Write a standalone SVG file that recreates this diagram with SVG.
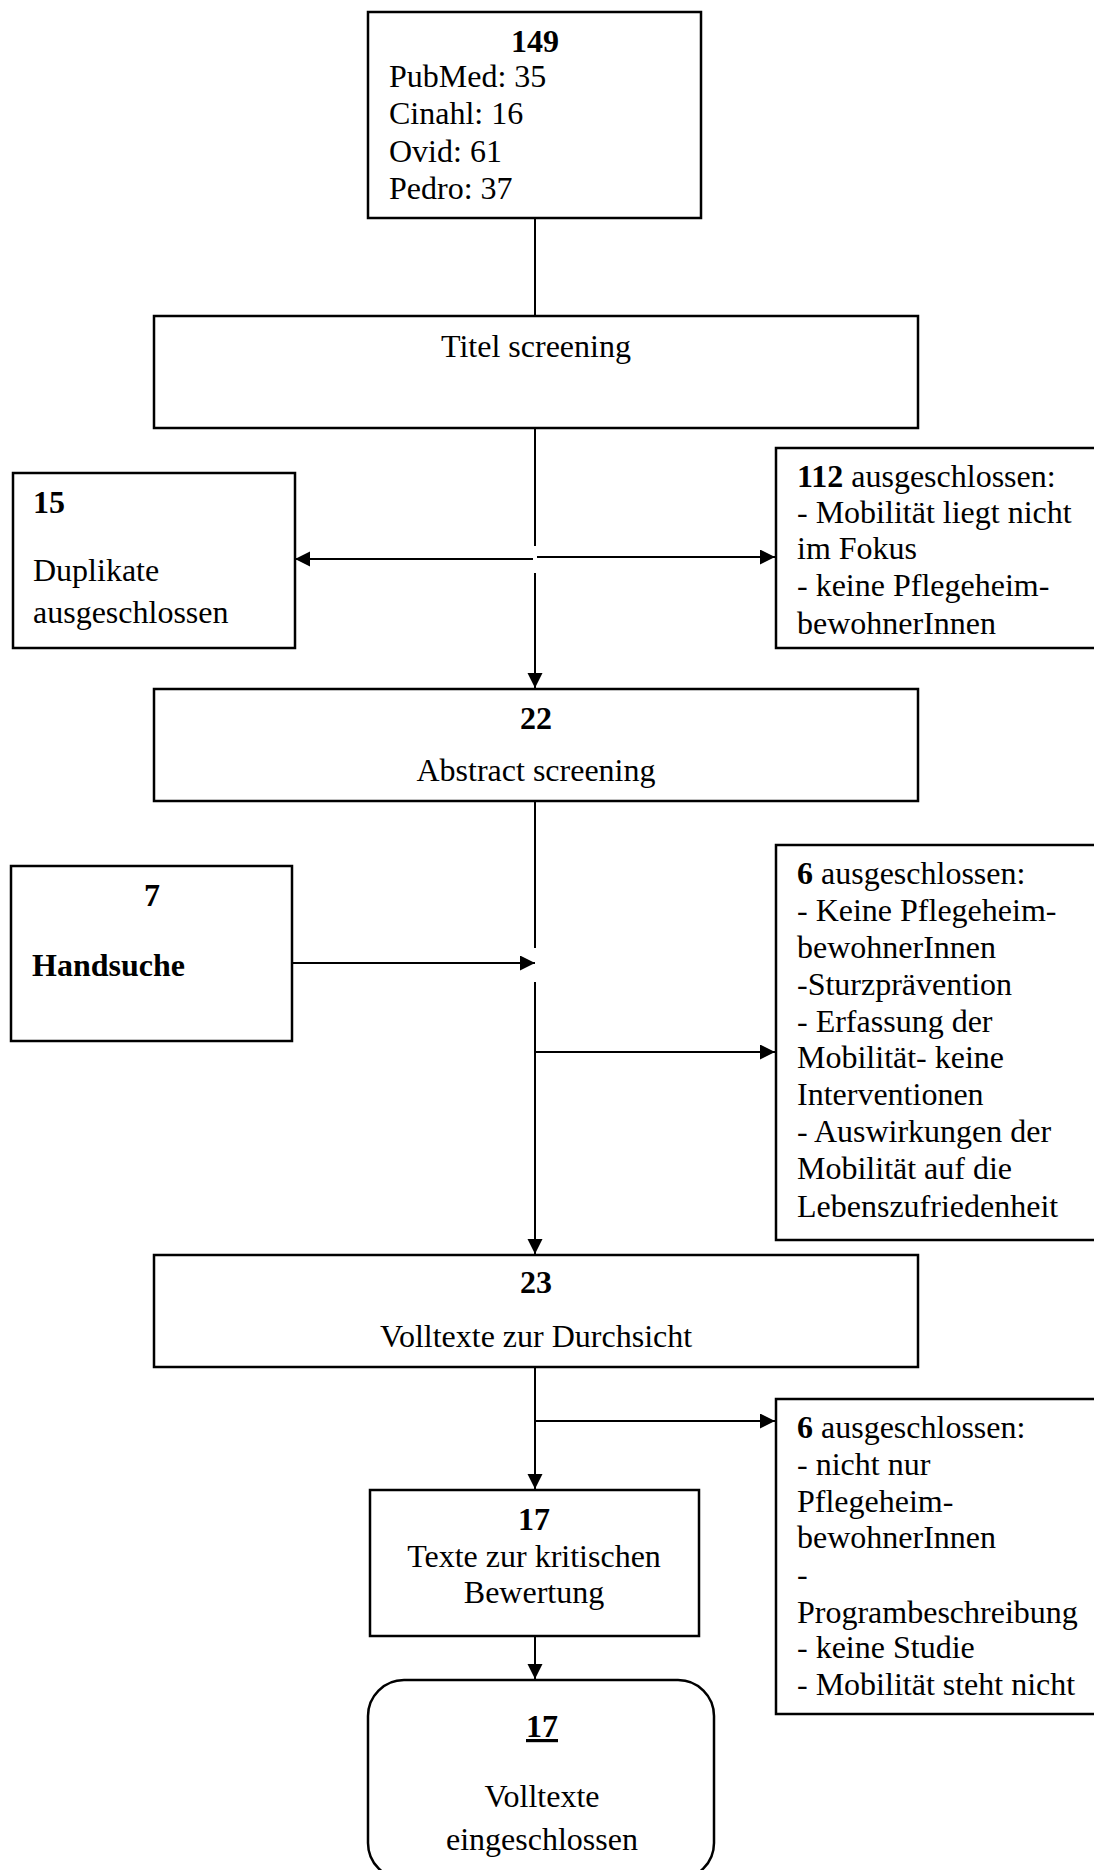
<svg xmlns="http://www.w3.org/2000/svg" width="1094" height="1870" viewBox="0 0 1094 1870">
<style>
.box{fill:#fff;stroke:#000;stroke-width:2.5}
.t{font-family:"Liberation Serif","Times New Roman",serif;font-size:32px;fill:#000}
.c{text-anchor:middle}
.b{font-weight:bold}
.ln{stroke:#000;stroke-width:2;fill:none}
</style>
<defs>
<marker id="ah" markerUnits="userSpaceOnUse" markerWidth="16" markerHeight="16" refX="15" refY="7.5" orient="auto">
<path d="M0,0 L15,7.5 L0,15 z" fill="#000"/>
</marker>
</defs>
<rect width="1094" height="1870" fill="#fff"/>
<g id="connectors">
<line class="ln" x1="535" y1="218" x2="535" y2="316"/>
<line class="ln" x1="535" y1="428" x2="535" y2="546"/>
<line class="ln" x1="535" y1="573" x2="535" y2="688" marker-end="url(#ah)"/>
<line class="ln" x1="533" y1="559" x2="295" y2="559" marker-end="url(#ah)"/>
<line class="ln" x1="537" y1="557" x2="775" y2="557" marker-end="url(#ah)"/>
<line class="ln" x1="535" y1="801" x2="535" y2="948"/>
<line class="ln" x1="292" y1="963" x2="535" y2="963" marker-end="url(#ah)"/>
<line class="ln" x1="535" y1="982" x2="535" y2="1254" marker-end="url(#ah)"/>
<line class="ln" x1="535" y1="1052" x2="775" y2="1052" marker-end="url(#ah)"/>
<line class="ln" x1="535" y1="1367" x2="535" y2="1489" marker-end="url(#ah)"/>
<line class="ln" x1="535" y1="1421" x2="775" y2="1421" marker-end="url(#ah)"/>
<line class="ln" x1="535" y1="1636" x2="535" y2="1679" marker-end="url(#ah)"/>
</g>
<g id="n149">
<rect class="box" x="368" y="12" width="333" height="206"/>
<text class="t c b" x="535" y="52">149</text>
<text class="t" x="389" y="87">PubMed: 35</text>
<text class="t" x="389" y="124">Cinahl: 16</text>
<text class="t" x="389" y="162">Ovid: 61</text>
<text class="t" x="389" y="199">Pedro: 37</text>
</g>
<g id="titel">
<rect class="box" x="154" y="316" width="764" height="112"/>
<text class="t c" x="536" y="357">Titel screening</text>
</g>
<g id="duplikate">
<rect class="box" x="13" y="473" width="282" height="175"/>
<text class="t b" x="33" y="513">15</text>
<text class="t" x="33" y="581">Duplikate</text>
<text class="t" x="33" y="623">ausgeschlossen</text>
</g>
<g id="excl112">
<rect class="box" x="776" y="448" width="330" height="200"/>
<text class="t" x="797" y="487"><tspan class="b">112</tspan> ausgeschlossen:</text>
<text class="t" x="797" y="523">- Mobilität liegt nicht</text>
<text class="t" x="797" y="559">im Fokus</text>
<text class="t" x="797" y="596">- keine Pflegeheim-</text>
<text class="t" x="797" y="634">bewohnerInnen</text>
</g>
<g id="abstract">
<rect class="box" x="154" y="689" width="764" height="112"/>
<text class="t c b" x="536" y="729">22</text>
<text class="t c" x="536" y="781">Abstract screening</text>
</g>
<g id="handsuche">
<rect class="box" x="11" y="866" width="281" height="175"/>
<text class="t c b" x="152" y="906">7</text>
<text class="t b" x="32" y="976">Handsuche</text>
</g>
<g id="excl6a">
<rect class="box" x="776" y="845" width="330" height="395"/>
<text class="t" x="797" y="884"><tspan class="b">6</tspan> ausgeschlossen:</text>
<text class="t" x="797" y="921">- Keine Pflegeheim-</text>
<text class="t" x="797" y="958">bewohnerInnen</text>
<text class="t" x="797" y="995">-Sturzprävention</text>
<text class="t" x="797" y="1032">- Erfassung der</text>
<text class="t" x="797" y="1068">Mobilität- keine</text>
<text class="t" x="797" y="1105">Interventionen</text>
<text class="t" x="797" y="1142">- Auswirkungen der</text>
<text class="t" x="797" y="1179">Mobilität auf die</text>
<text class="t" x="797" y="1217">Lebenszufriedenheit</text>
</g>
<g id="volltexte">
<rect class="box" x="154" y="1255" width="764" height="112"/>
<text class="t c b" x="536" y="1293">23</text>
<text class="t c" x="536" y="1347">Volltexte zur Durchsicht</text>
</g>
<g id="excl6b">
<rect class="box" x="776" y="1399" width="330" height="315"/>
<text class="t" x="797" y="1438"><tspan class="b">6</tspan> ausgeschlossen:</text>
<text class="t" x="797" y="1475">- nicht nur</text>
<text class="t" x="797" y="1512">Pflegeheim-</text>
<text class="t" x="797" y="1548">bewohnerInnen</text>
<text class="t" x="797" y="1585">-</text>
<text class="t" x="797" y="1623">Programbeschreibung</text>
<text class="t" x="797" y="1658">- keine Studie</text>
<text class="t" x="797" y="1695">- Mobilität steht nicht</text>
</g>
<g id="kritisch">
<rect class="box" x="370" y="1490" width="329" height="146"/>
<text class="t c b" x="534" y="1530">17</text>
<text class="t c" x="534" y="1567">Texte zur kritischen</text>
<text class="t c" x="534" y="1603">Bewertung</text>
</g>
<g id="eingeschlossen">
<rect class="box" x="368" y="1680" width="346" height="199" rx="36" ry="36"/>
<text class="t c b" x="542" y="1737" text-decoration="underline">17</text>
<text class="t c" x="542" y="1807">Volltexte</text>
<text class="t c" x="542" y="1850">eingeschlossen</text>
</g>
</svg>
